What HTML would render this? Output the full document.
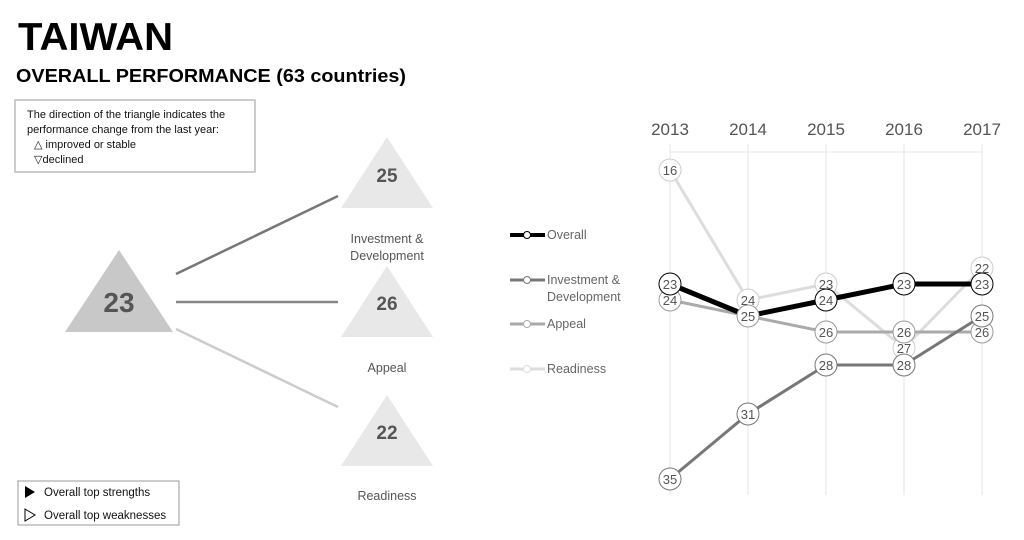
<!DOCTYPE html>
<html><head><style>
body{margin:0;width:1024px;height:535px;background:#fff;overflow:hidden;font-family:"Liberation Sans",sans-serif;}
</style></head><body>
<svg width="1024" height="535" xmlns="http://www.w3.org/2000/svg" font-family="Liberation Sans, sans-serif">
<text x="18" y="50" font-size="39" font-weight="bold" fill="#000" textLength="155" lengthAdjust="spacingAndGlyphs">TAIWAN</text>
<text x="16" y="82" font-size="18.5" font-weight="bold" fill="#000" textLength="390" lengthAdjust="spacingAndGlyphs">OVERALL PERFORMANCE  (63 countries)</text>
<rect x="15" y="100" width="240" height="72" fill="#fff" stroke="#bbb" stroke-width="1.5"/>
<text font-size="11" fill="#111"><tspan x="27" y="118">The direction of the triangle indicates the</tspan><tspan x="27" y="133">performance change from the last year:</tspan><tspan x="34" y="148">△ improved or stable</tspan><tspan x="34" y="163">▽declined</tspan></text>
<polygon points="119,250 173,332 65,332" fill="#c8c8c8"/>
<text x="119" y="312" font-size="28" font-weight="bold" fill="#555" text-anchor="middle">23</text>
<line x1="176" y1="274" x2="338" y2="196" stroke="#777" stroke-width="2.5"/>
<line x1="176" y1="302" x2="338" y2="302" stroke="#888" stroke-width="2.5"/>
<line x1="176" y1="329" x2="338" y2="407" stroke="#ccc" stroke-width="2.5"/>
<polygon points="387,137 433,208 341,208" fill="#e8e8e8"/>
<text x="387" y="182" font-size="19" font-weight="bold" fill="#555" text-anchor="middle">25</text>
<polygon points="387,266 433,337 341,337" fill="#e8e8e8"/>
<text x="387" y="310" font-size="19" font-weight="bold" fill="#555" text-anchor="middle">26</text>
<polygon points="387,395 433,466 341,466" fill="#e8e8e8"/>
<text x="387" y="439" font-size="19" font-weight="bold" fill="#555" text-anchor="middle">22</text>
<text font-size="12.5" fill="#555" text-anchor="middle"><tspan x="387" y="243">Investment &amp;</tspan><tspan x="387" y="260">Development</tspan><tspan x="387" y="372">Appeal</tspan><tspan x="387" y="500">Readiness</tspan></text>
<rect x="18" y="481" width="161" height="44" fill="#fff" stroke="#999" stroke-width="1"/>
<polygon points="25,486 35,492 25,498" fill="#000"/>
<polygon points="25,509 35,515 25,521" fill="#fff" stroke="#000"/>
<text font-size="11.5" fill="#111"><tspan x="44" y="496">Overall top strengths</tspan><tspan x="44" y="519">Overall top weaknesses</tspan></text>
<g font-size="12.5" fill="#666">
<line x1="510" y1="235" x2="545" y2="235" stroke="#000" stroke-width="4"/><circle cx="527" cy="235" r="3.5" fill="#fff" stroke="#000"/><text x="547" y="239">Overall</text>
<line x1="510" y1="280" x2="545" y2="280" stroke="#777" stroke-width="3"/><circle cx="527" cy="280" r="3.5" fill="#fff" stroke="#777"/><text x="547" y="284">Investment &amp;</text><text x="547" y="301">Development</text>
<line x1="510" y1="324" x2="545" y2="324" stroke="#aaa" stroke-width="3"/><circle cx="527" cy="324" r="3.5" fill="#fff" stroke="#aaa"/><text x="547" y="328">Appeal</text>
<line x1="510" y1="369" x2="545" y2="369" stroke="#ddd" stroke-width="3"/><circle cx="527" cy="369" r="3.5" fill="#fff" stroke="#ddd"/><text x="547" y="373">Readiness</text>
</g>
<g stroke="#e6e6e6" stroke-width="1">
<line x1="670" y1="144" x2="670" y2="495"/><line x1="748" y1="144" x2="748" y2="495"/><line x1="826" y1="144" x2="826" y2="495"/><line x1="904" y1="144" x2="904" y2="495"/><line x1="982" y1="144" x2="982" y2="495"/>
<line x1="670" y1="152" x2="982" y2="152"/>
</g>
<g font-size="17" fill="#555" text-anchor="middle"><text x="670" y="135">2013</text><text x="748" y="135">2014</text><text x="826" y="135">2015</text><text x="904" y="135">2016</text><text x="982" y="135">2017</text></g>
<polyline points="670,170 748,300 826,284 904,348 982,268" fill="none" stroke="#ddd" stroke-width="3"/>
<polyline points="670,300 748,316 826,332 904,332 982,332" fill="none" stroke="#aaa" stroke-width="3"/>
<polyline points="670,479 748,414 826,365 904,365 982,316" fill="none" stroke="#777" stroke-width="3"/>
<polyline points="670,284 748,316 826,300 904,284 982,284" fill="none" stroke="#000" stroke-width="5"/>
<g font-size="13" text-anchor="middle" fill="#555">
<g stroke="#ccc" fill="#fff"><circle cx="670" cy="170" r="11"/><circle cx="748" cy="300" r="11"/><circle cx="826" cy="284" r="11"/><circle cx="904" cy="348" r="11"/><circle cx="982" cy="268" r="11"/></g>
<g stroke="#999" fill="#fff"><circle cx="670" cy="300" r="11"/><circle cx="826" cy="332" r="11"/><circle cx="904" cy="332" r="11"/><circle cx="982" cy="332" r="11"/></g>
<g stroke="#777" fill="#fff"><circle cx="670" cy="479" r="11"/><circle cx="748" cy="414" r="11"/><circle cx="826" cy="365" r="11"/><circle cx="904" cy="365" r="11"/><circle cx="982" cy="316" r="11"/></g>
<g stroke="#000" fill="#fff"><circle cx="670" cy="284" r="11"/><circle cx="748" cy="316" r="11" stroke="#999"/><circle cx="826" cy="300" r="11"/><circle cx="904" cy="284" r="11"/><circle cx="982" cy="284" r="11"/></g>
<text x="670" y="175">16</text><text x="748" y="305">24</text><text x="826" y="289">23</text><text x="904" y="353">27</text><text x="982" y="273">22</text>
<text x="670" y="305">24</text><text x="826" y="337">26</text><text x="904" y="337">26</text><text x="982" y="337">26</text>
<text x="670" y="484">35</text><text x="748" y="419">31</text><text x="826" y="370">28</text><text x="904" y="370">28</text><text x="982" y="321">25</text>
<text x="670" y="289">23</text><text x="748" y="321">25</text><text x="826" y="305">24</text><text x="904" y="289">23</text><text x="982" y="289">23</text>
</g>
</svg>
</body></html>
